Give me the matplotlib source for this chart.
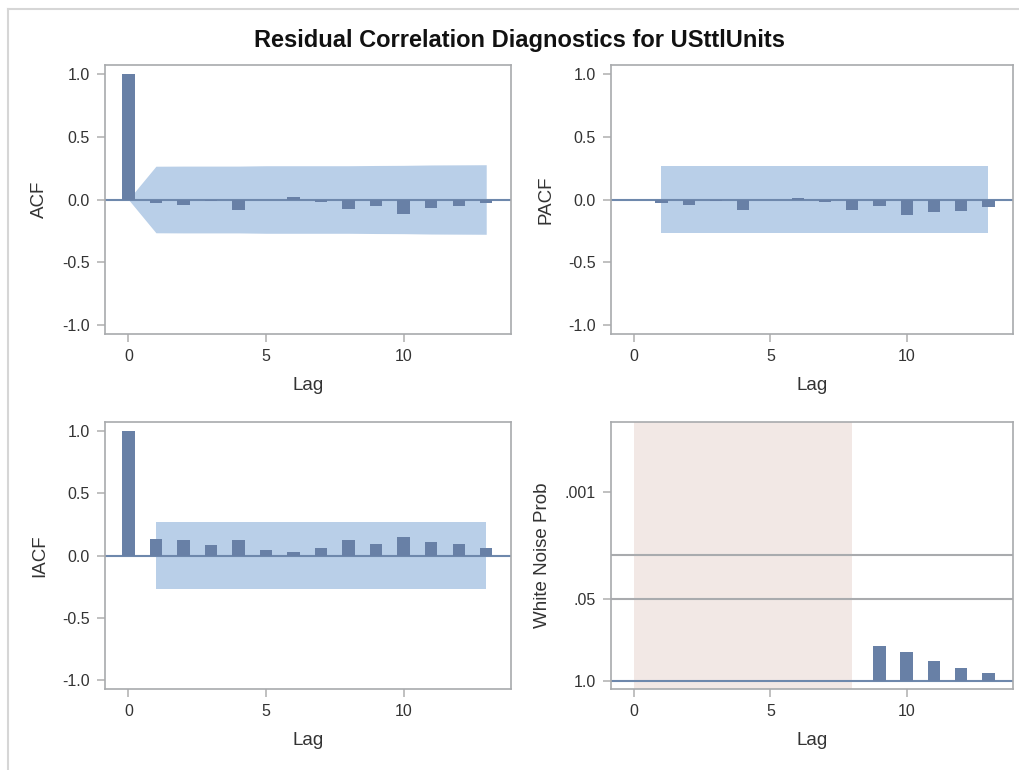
import numpy as np
import matplotlib
matplotlib.use("Agg")
import matplotlib.pyplot as plt
from matplotlib.lines import Line2D

plt.rcParams['font.family'] = ['Liberation Sans', 'DejaVu Sans']

# residual correlation values
lags = list(range(0, 14))
acf = [1.0, -0.03, -0.045, -0.01, -0.08, -0.003, 0.02, -0.02, -0.075, -0.05,
       -0.115, -0.07, -0.05, -0.03]
acf_band = [0.0, 0.266, 0.267, 0.267, 0.267, 0.270, 0.270, 0.270, 0.270, 0.272,
            0.273, 0.276, 0.277, 0.278]
pacf_lags = list(range(1, 14))
pacf = [-0.03, -0.04, -0.01, -0.08, -0.003, 0.015, -0.02, -0.08, -0.055, -0.125,
        -0.10, -0.09, -0.06]
pacf_band = 0.267
iacf = [1.0, 0.133, 0.127, 0.082, 0.127, 0.045, 0.032, 0.064, 0.122, 0.095,
        0.146, 0.109, 0.09, 0.058]
iacf_band = 0.27
# white noise test, plotted as -log10(prob); lags 1-8 have no test
wn_lags = [9, 10, 11, 12, 13]
wn_prob = [0.281, 0.355, 0.486, 0.631, 0.755]
wn_missing = (0, 8)

bar_col = '#6880A6'
band_col = '#B9CFE8'
zero_col = '#6E88AC'
frame_col = '#A8AAAD'
tick_col = '#B5B5B5'
text_col = '#333333'

fig = plt.figure(figsize=(10.19, 7.70), dpi=100)

W, H = 1019, 770
def pos(l, t, r, b):
    return [l / W, 1 - b / H, (r - l) / W, (b - t) / H]

ax_acf = fig.add_axes(pos(105, 65, 511, 334))
ax_pacf = fig.add_axes(pos(611, 65, 1013, 334))
ax_iacf = fig.add_axes(pos(105, 422, 511, 689))
ax_wn = fig.add_axes(pos(611, 422, 1013, 689))

def style(ax, ylabel):
    ax.set_xlim(-0.85, 13.9)
    ax.set_xticks([0, 5, 10])
    for s in ax.spines.values():
        s.set_color(frame_col)
        s.set_linewidth(1.2)
    ax.tick_params(direction='out', length=6, width=1.2, color=tick_col,
                   labelcolor=text_col, labelsize=11.5, pad=5)
    ax.set_xlabel('Lag', fontsize=13.5, color=text_col, labelpad=9)
    ax.set_ylabel(ylabel, fontsize=13.5, color=text_col, labelpad=10)

def corr_axes(ax, ylabel):
    style(ax, ylabel)
    ax.set_ylim(-1.075, 1.075)
    ax.set_yticks([-1.0, -0.5, 0.0, 0.5, 1.0])
    ax.set_yticklabels(['-1.0', '-0.5', '0.0', '0.5', '1.0'])

# ACF
corr_axes(ax_acf, 'ACF')
ax_acf.fill_between(lags, [-b for b in acf_band], acf_band, color=band_col,
                    lw=0, zorder=1)
ax_acf.axhline(0, color=zero_col, lw=1.5, zorder=2)
ax_acf.bar(lags, acf, width=0.45, color=bar_col, zorder=3)

# PACF
corr_axes(ax_pacf, 'PACF')
ax_pacf.fill_between([pacf_lags[0], pacf_lags[-1]], -pacf_band, pacf_band,
                     color=band_col, lw=0, zorder=1)
ax_pacf.axhline(0, color=zero_col, lw=1.5, zorder=2)
ax_pacf.bar(pacf_lags, pacf, width=0.45, color=bar_col, zorder=3)

# IACF
corr_axes(ax_iacf, 'IACF')
ax_iacf.fill_between([1, 13], -iacf_band, iacf_band, color=band_col, lw=0,
                     zorder=1)
ax_iacf.axhline(0, color=zero_col, lw=1.5, zorder=2)
ax_iacf.bar(lags, iacf, width=0.45, color=bar_col, zorder=3)

# White noise probabilities
style(ax_wn, 'White Noise Prob')
ax_wn.set_ylim(-0.13, 4.107)
ax_wn.set_yticks([0, -np.log10(0.05), 3])
ax_wn.set_yticklabels(['1.0', '.05', '.001'])
ax_wn.axvspan(wn_missing[0], wn_missing[1], color='#F2E8E5', lw=0, zorder=0)
for p in [0.05, 0.01]:
    ax_wn.axhline(-np.log10(p), color='#A9ABAE', lw=1.5, zorder=1)
ax_wn.axhline(0, color=zero_col, lw=1.5, zorder=2)
ax_wn.bar(wn_lags, -np.log10(wn_prob), width=0.46, color=bar_col, zorder=3)

fig.text(0.51, 0.948, 'Residual Correlation Diagnostics for USttlUnits',
         ha='center', va='center', fontsize=17, fontweight='bold',
         color='#111111')

# page border
fig.add_artist(Line2D([8 / W, 1], [1 - 9 / H, 1 - 9 / H], color='#D6D6D6',
                      lw=1.5, transform=fig.transFigure))
fig.add_artist(Line2D([8 / W, 8 / W], [0, 1 - 9 / H], color='#D6D6D6',
                      lw=1.5, transform=fig.transFigure))

fig.savefig('out.png', dpi=100)
